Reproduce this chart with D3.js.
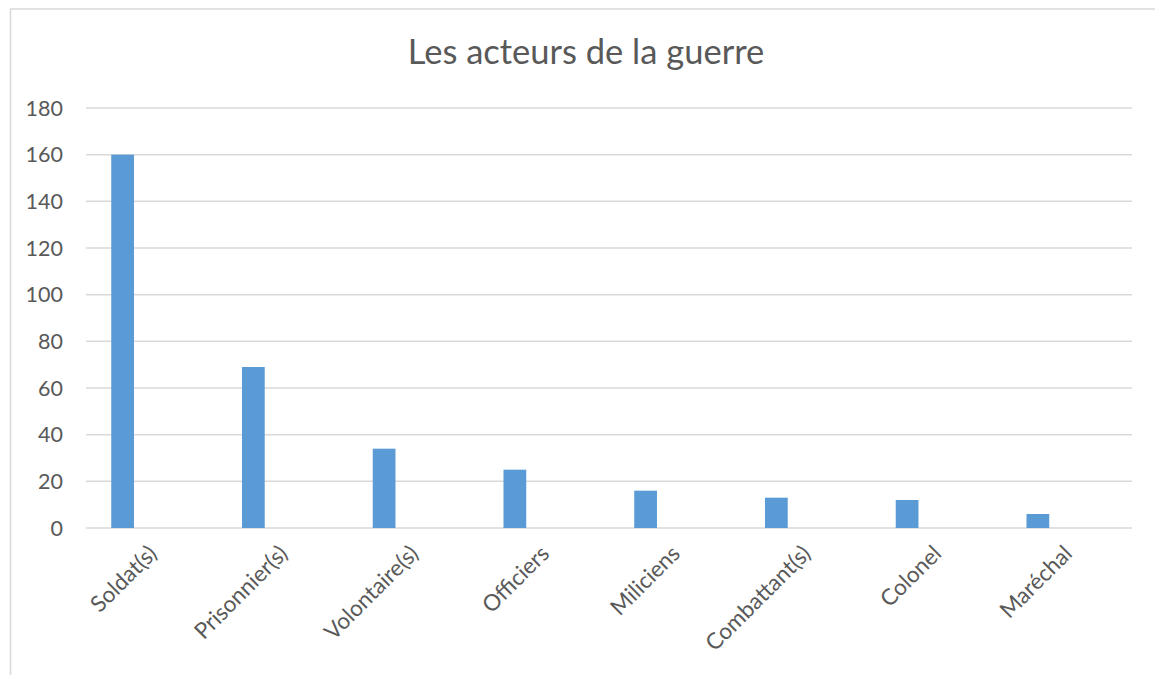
<!DOCTYPE html>
<html>
<head>
<meta charset="utf-8">
<script src="https://cdn.jsdelivr.net/npm/d3@7"></script>
<style>
  body { margin: 0; background: #fff; }
  text { font-family: Lato, "Open Sans", sans-serif; fill: #595959; }
</style>
</head>
<body>
<div id="main"></div>
<script>
var chartTitle = "Les acteurs de la guerre";
var categories = ["Soldat(s)", "Prisonnier(s)", "Volontaire(s)", "Officiers",
                  "Miliciens", "Combattant(s)", "Colonel", "Maréchal"];
var values = [160, 69, 34, 25, 16, 13, 12, 6];
var yTicks = [0, 20, 40, 60, 80, 100, 120, 140, 160, 180];

var cfg = {
    width: 1155,
    height: 675,
    left: 86,
    right: 1132,
    top: 108,
    bottom: 528,
};

var svg = d3
    .select("#main")
    .append("svg")
    .attr("width", cfg.width)
    .attr("height", cfg.height);

// chart frame (right and bottom edges are cut off in the original)
svg.append("rect")
    .attr("x", 10.5)
    .attr("y", 9)
    .attr("width", 1160)
    .attr("height", 700)
    .attr("fill", "#fff")
    .attr("stroke", "#d9d9d9")
    .attr("stroke-width", 1.5);

var x = d3.scaleBand().domain(categories).range([cfg.left, cfg.right]);
var y = d3.scaleLinear().domain([0, 180]).range([cfg.bottom, cfg.top]);

// gridlines
svg.selectAll(".grid")
    .data(yTicks)
    .enter()
    .append("line")
    .attr("class", "grid")
    .attr("x1", cfg.left)
    .attr("x2", cfg.right)
    .attr("y1", function (d) { return y(d); })
    .attr("y2", function (d) { return y(d); })
    .attr("stroke", "#d9d9d9")
    .attr("stroke-width", 1.5);

// y axis labels
svg.selectAll(".ylab")
    .data(yTicks)
    .enter()
    .append("text")
    .attr("class", "ylab")
    .attr("x", 63)
    .attr("y", function (d) { return y(d); })
    .attr("dy", "0.35em")
    .attr("text-anchor", "end")
    .style("font-size", "21.5px")
    .text(function (d) { return d; });

// bars sit in the left part of each band (first series of a cluster)
var barOffset = x.bandwidth() * 0.193;
var barWidth = x.bandwidth() * 0.174;

svg.selectAll(".bar")
    .data(values)
    .enter()
    .append("rect")
    .attr("class", "bar")
    .attr("x", function (d, i) { return x(categories[i]) + barOffset; })
    .attr("y", function (d) { return y(d); })
    .attr("width", barWidth)
    .attr("height", function (d) { return y(0) - y(d); })
    .attr("fill", "#5b9bd5");

// category labels, rotated
svg.selectAll(".xlab")
    .data(categories)
    .enter()
    .append("text")
    .attr("class", "xlab")
    .attr("text-anchor", "end")
    .attr("transform", function (d) {
        return "translate(" + (x(d) + x.bandwidth() / 2 + 7) + "," + 555 + ") rotate(-45)";
    })
    .style("font-size", "22.5px")
    .text(function (d) { return d; });

// title
svg.append("text")
    .attr("x", 586)
    .attr("y", 64)
    .attr("text-anchor", "middle")
    .style("font-size", "34.5px")
    .text(chartTitle);
</script>
</body>
</html>
